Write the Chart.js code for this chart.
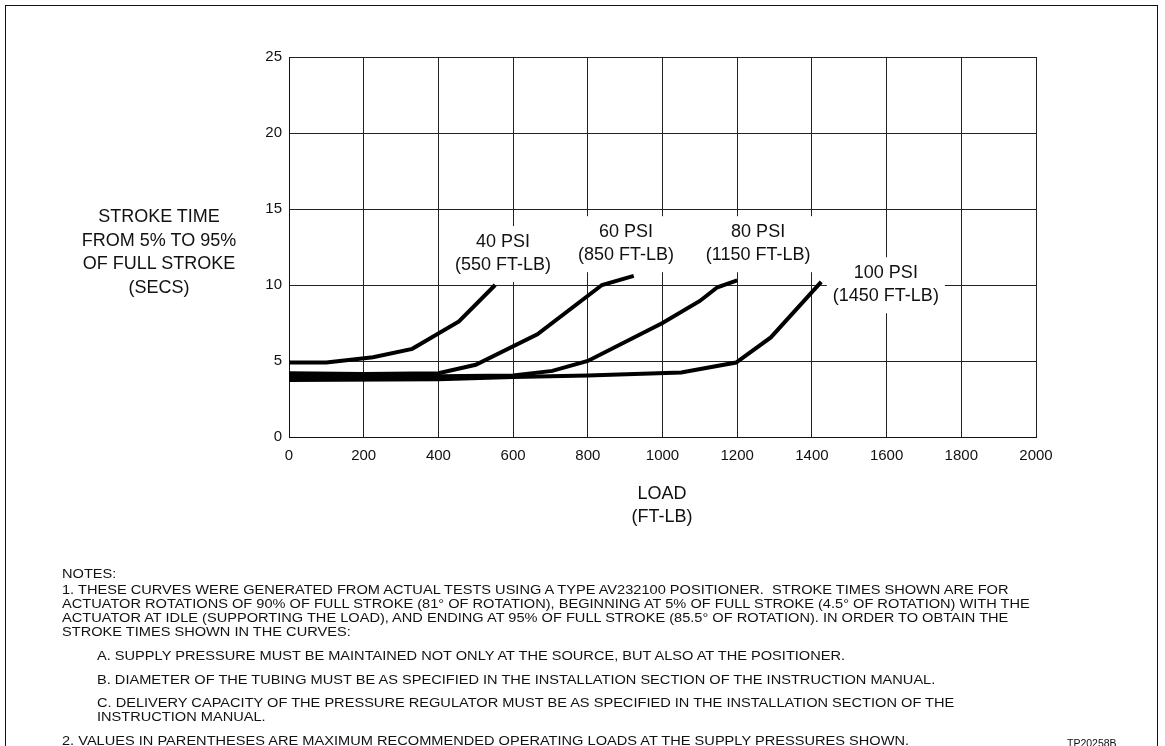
<!DOCTYPE html>
<html>
<head>
<meta charset="utf-8">
<script src="https://cdn.jsdelivr.net/npm/chart.js@4.4.1/dist/chart.umd.min.js"></script>
<style>
  body { margin: 0; background: #fff; font-family: "Liberation Sans", Arial, sans-serif; color: #111; }
  #page { position: relative; width: 1165px; height: 746px; overflow: hidden; }
  #frame { position: absolute; left: 5px; top: 5px; width: 1151px; height: 800px; border: 1.5px solid #111; }
  #c { position: absolute; left: 0; top: 0; }
  .ytitle { position: absolute; left: 59px; top: 205px; width: 200px; text-align: center; font-size: 18px; line-height: 23.6px; }
  .xtitle { position: absolute; left: 562px; top: 482px; width: 200px; text-align: center; font-size: 18px; line-height: 23px; }
  .note { position: absolute; left: 62px; font-size: 13.4px; white-space: pre; line-height: 14px; transform: scaleX(1.09); transform-origin: 0 0; }
  .ind { left: 97px; }
  .tp { position: absolute; left: 1067px; top: 737px; font-size: 10.5px; }
</style>
</head>
<body>
<div id="page">
  <div id="frame"></div>
  <canvas id="c" width="1165" height="746"></canvas>
  <div class="ytitle">STROKE TIME<br>FROM 5% TO 95%<br>OF FULL STROKE<br>(SECS)</div>
  <div class="xtitle">LOAD<br>(FT-LB)</div>
  <div class="note" style="top:567px">NOTES:</div>
  <div class="note" style="top:583px">1. THESE CURVES WERE GENERATED FROM ACTUAL TESTS USING A TYPE AV232100 POSITIONER.  STROKE TIMES SHOWN ARE FOR</div>
  <div class="note" style="top:597px">ACTUATOR ROTATIONS OF 90% OF FULL STROKE (81° OF ROTATION), BEGINNING AT 5% OF FULL STROKE (4.5° OF ROTATION) WITH THE</div>
  <div class="note" style="top:611px">ACTUATOR AT IDLE (SUPPORTING THE LOAD), AND ENDING AT 95% OF FULL STROKE (85.5° OF ROTATION). IN ORDER TO OBTAIN THE</div>
  <div class="note" style="top:625px">STROKE TIMES SHOWN IN THE CURVES:</div>
  <div class="note ind" style="top:649px">A. SUPPLY PRESSURE MUST BE MAINTAINED NOT ONLY AT THE SOURCE, BUT ALSO AT THE POSITIONER.</div>
  <div class="note ind" style="top:673px">B. DIAMETER OF THE TUBING MUST BE AS SPECIFIED IN THE INSTALLATION SECTION OF THE INSTRUCTION MANUAL.</div>
  <div class="note ind" style="top:696px">C. DELIVERY CAPACITY OF THE PRESSURE REGULATOR MUST BE AS SPECIFIED IN THE INSTALLATION SECTION OF THE</div>
  <div class="note ind" style="top:710px">INSTRUCTION MANUAL.</div>
  <div class="note" style="top:734px">2. VALUES IN PARENTHESES ARE MAXIMUM RECOMMENDED OPERATING LOADS AT THE SUPPLY PRESSURES SHOWN.</div>
  <div class="tp">TP20258B</div>
</div>
<script>
// load (ft-lb) / stroke time (secs)
const psi40 = [[0, 4.9], [100, 4.9], [225, 5.25], [330, 5.8], [455, 7.6], [552, 10.0]];
const psi60 = [[0, 4.2], [200, 4.15], [400, 4.2], [500, 4.75], [665, 6.75], [838, 10.0], [923, 10.6]];
const psi80 = [[0, 4.0], [400, 4.0], [600, 4.05], [705, 4.35], [800, 5.0], [1000, 7.5], [1100, 8.95], [1147, 9.85], [1200, 10.3]];
const psi100 = [[0, 3.75], [400, 3.8], [600, 3.95], [800, 4.05], [1050, 4.25], [1197, 4.9], [1290, 6.55], [1425, 10.2]];

// curve labels: text lines and where they sit (in data units)
const labelLines = [
  ['40 PSI', '(550 FT-LB)'],
  ['60 PSI', '(850 FT-LB)'],
  ['80 PSI', '(1150 FT-LB)'],
  ['100 PSI', '(1450 FT-LB)']
];
const labelX = [573, 902, 1256, 1598];
const labelY = [12.1, 12.75, 12.75, 10.05];

const toPts = arr => arr.map(p => ({ x: p[0], y: p[1] }));

const curveLabels = {
  id: 'curveLabels',
  beforeDatasetsDraw(chart) {
    const ctx = chart.ctx;
    const xs = chart.scales.x, ys = chart.scales.y;
    ctx.save();
    ctx.font = '18px "Liberation Sans", Arial, sans-serif';
    ctx.textAlign = 'center';
    ctx.textBaseline = 'middle';
    labelLines.forEach((lines, i) => {
      const cx = xs.getPixelForValue(labelX[i]);
      const cy = ys.getPixelForValue(labelY[i]);
      const w = Math.max(...lines.map(t => ctx.measureText(t).width));
      const lh = 23;
      const h = lh * lines.length;
      ctx.fillStyle = '#fff';
      ctx.fillRect(cx - w / 2 - 6, cy - h / 2 - 4, w + 12, h + 10);
      ctx.fillStyle = '#111';
      lines.forEach((t, j) => ctx.fillText(t, cx, cy - h / 2 + lh / 2 + j * lh));
    });
    ctx.restore();
  }
};

const mk = d => ({
  data: toPts(d),
  borderColor: '#000',
  borderWidth: 4,
  pointRadius: 0,
  tension: 0,
  fill: false
});

const tickFont = { size: 15, family: '"Liberation Sans", Arial, sans-serif' };

new Chart(document.getElementById('c'), {
  type: 'line',
  data: { datasets: [mk(psi40), mk(psi60), mk(psi80), mk(psi100)] },
  options: {
    responsive: false,
    animation: false,
    events: [],
    layout: { padding: { left: 0, top: 57, right: 129, bottom: 0 } },
    plugins: { legend: { display: false }, tooltip: { enabled: false } },
    scales: {
      x: {
        type: 'linear', min: 0, max: 2000,
        afterFit(s) { s.height = 746 - 437; },
        ticks: { stepSize: 200, color: '#111', padding: 10, font: tickFont, callback: v => String(v) },
        grid: { color: '#222', lineWidth: 1, drawTicks: false },
        border: { color: '#111', width: 1 }
      },
      y: {
        min: 0, max: 25,
        afterFit(s) { s.width = 289; },
        ticks: { stepSize: 5, color: '#111', padding: 7, font: tickFont },
        grid: { color: '#222', lineWidth: 1, drawTicks: false },
        border: { color: '#111', width: 1 }
      }
    }
  },
  plugins: [curveLabels]
});
</script>
</body>
</html>
